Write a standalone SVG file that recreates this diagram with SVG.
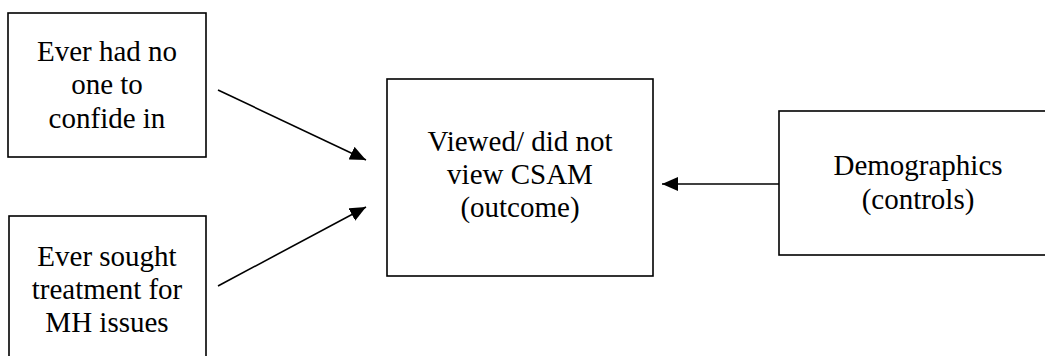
<svg xmlns="http://www.w3.org/2000/svg" width="1045" height="356" viewBox="0 0 1045 356">
  <style>
    .box { fill: #fff; stroke: #000; stroke-width: 1.6; }
    .lbl { font-family: "Liberation Serif", "Times New Roman", serif; font-size: 29px; fill: #000; text-anchor: middle; }
    .conn { stroke: #000; stroke-width: 1.6; fill: none; }
  </style>
  <defs>
    <marker id="arrow" markerUnits="userSpaceOnUse" markerWidth="16" markerHeight="14" viewBox="0 0 16 14" refX="16" refY="7" orient="auto">
      <path d="M0,0 L16,7 L0,14 Z" fill="#000"/>
    </marker>
  </defs>
  <rect width="1045" height="356" fill="#fff"/>
  <g id="node-confide">
    <rect class="box" x="8" y="13" width="198" height="144"/>
    <text class="lbl" x="107" y="61">Ever had no</text>
    <text class="lbl" x="107" y="94">one to</text>
    <text class="lbl" x="107" y="128">confide in</text>
  </g>
  <g id="node-treatment">
    <rect class="box" x="9" y="216" width="197" height="160"/>
    <text class="lbl" x="107" y="266">Ever sought</text>
    <text class="lbl" x="107" y="299">treatment for</text>
    <text class="lbl" x="107" y="332">MH issues</text>
  </g>
  <g id="node-outcome">
    <rect class="box" x="387" y="79" width="266" height="197"/>
    <text class="lbl" x="520" y="151">Viewed/ did not</text>
    <text class="lbl" x="520" y="184">view CSAM</text>
    <text class="lbl" x="520" y="217">(outcome)</text>
  </g>
  <g id="node-demographics">
    <rect class="box" x="779" y="111" width="280" height="144"/>
    <text class="lbl" x="918" y="175">Demographics</text>
    <text class="lbl" x="918" y="209">(controls)</text>
  </g>
  <g id="connectors">
    <line class="conn" x1="218" y1="90" x2="366" y2="160" marker-end="url(#arrow)"/>
    <line class="conn" x1="218" y1="286" x2="366" y2="207" marker-end="url(#arrow)"/>
    <line class="conn" x1="779" y1="184" x2="662" y2="184" marker-end="url(#arrow)"/>
  </g>
</svg>
